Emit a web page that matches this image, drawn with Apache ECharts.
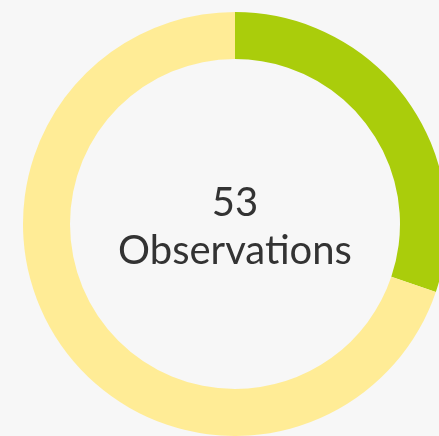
<!DOCTYPE html>
<html>
<head>
<meta charset="utf-8">
<script src="https://cdn.jsdelivr.net/npm/echarts@6/dist/echarts.min.js"></script>
<style>
  html, body { margin: 0; padding: 0; background: #f7f7f7; }
  #main { width: 439px; height: 436px; }
</style>
</head>
<body>
<div id="main"></div>
<script>
// slices
var names = ['Observed', 'Other'];
var counts = [16, 37];
var colors = ['#aacd0b', '#ffec96'];
var centerLabel = 'Observations';

var total = counts.reduce(function (a, b) { return a + b; }, 0);
var pieData = names.map(function (n, i) {
  return { name: n, value: counts[i], itemStyle: { color: colors[i] } };
});

var myChart = echarts.init(document.getElementById('main'));
myChart.setOption({
  backgroundColor: '#f7f7f7',
  animation: false,
  series: [{
    type: 'pie',
    center: [235, 224],
    radius: [165, 212],
    startAngle: 90,
    clockwise: true,
    label: { show: false },
    labelLine: { show: false },
    emphasis: { disabled: true },
    data: pieData
  }],
  graphic: [{
    type: 'text',
    x: 235,
    y: 227,
    style: {
      text: total + '\n' + centerLabel,
      fill: '#333333',
      font: '40px Lato',
      lineHeight: 48,
      align: 'center',
      verticalAlign: 'middle'
    }
  }]
});
</script>
</body>
</html>
